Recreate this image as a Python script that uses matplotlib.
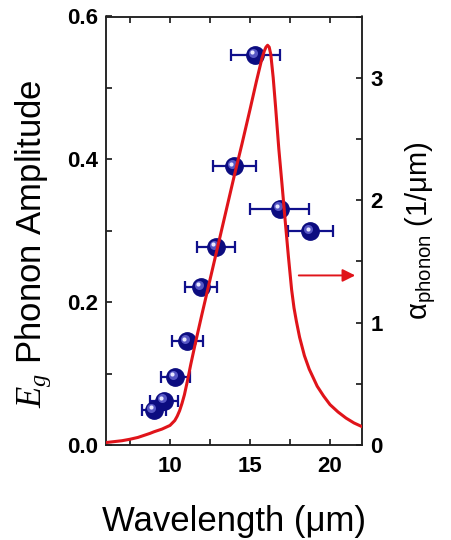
import matplotlib
matplotlib.use("Agg")
import matplotlib.pyplot as plt
from matplotlib.ticker import MultipleLocator
from matplotlib.transforms import offset_copy

plt.rcParams['font.family'] = ['Liberation Sans', 'DejaVu Sans']
plt.rcParams['mathtext.fontset'] = 'custom'
plt.rcParams['mathtext.rm'] = 'Liberation Sans'
plt.rcParams['mathtext.it'] = 'Liberation Serif:italic'

# measured Eg phonon amplitude
wl = [8.98, 9.64, 10.32, 11.07, 11.93, 12.88, 14.01, 15.32, 16.87, 18.78]
amp = [0.049, 0.062, 0.095, 0.145, 0.221, 0.277, 0.390, 0.546, 0.331, 0.299]
wl_err = [0.75, 0.88, 0.90, 0.97, 1.02, 1.18, 1.34, 1.53, 1.84, 1.39]

# phonon absorption curve (right axis)
curve_x = [6.0, 7.0, 7.5, 8.0, 8.75, 9.0, 9.5, 10.0, 10.3, 10.45, 10.6, 10.75,
           10.9, 11.0, 11.1, 11.3, 11.6, 12.0, 12.5, 13.0, 13.5, 14.0, 14.5,
           15.0, 15.4, 15.75, 15.9, 16.0, 16.1, 16.2, 16.3, 16.45, 16.6, 16.8,
           17.0, 17.2, 17.4, 17.6, 17.75, 17.9, 18.1, 18.4, 18.7, 19.2, 19.6,
           20.0, 20.5, 21.0, 21.5, 22.0]
curve_y = [0.02, 0.035, 0.047, 0.062, 0.095, 0.108, 0.13, 0.16, 0.20, 0.235,
           0.28, 0.34, 0.41, 0.47, 0.53, 0.66, 0.84, 1.07, 1.35, 1.63, 1.91,
           2.19, 2.46, 2.74, 2.97, 3.16, 3.22, 3.25, 3.265, 3.25, 3.19, 3.0,
           2.76, 2.42, 2.13, 1.83, 1.54, 1.27, 1.12, 1.01, 0.88, 0.73, 0.62,
           0.48, 0.40, 0.33, 0.27, 0.22, 0.18, 0.15]

navy = '#10108c'
red = '#e0141a'

fig = plt.figure(figsize=(4.52, 5.40), dpi=100)
ax = fig.add_axes([106/452, 1 - 445/540, 256/452, 428.5/540])

ax.errorbar(wl, amp, xerr=wl_err, fmt='none', ecolor=navy, elinewidth=1.6,
            capsize=4.6, capthick=1.6, zorder=2)
ax.plot(wl, amp, 'o', ms=12.5, color='#0c0c80', mec='#0c0c80', zorder=3)
tr1 = offset_copy(ax.transData, fig=fig, x=-1.6, y=1.6, units='points')
ax.plot(wl, amp, 'o', ms=6.5, color='#5656c4', mec='none', transform=tr1, zorder=4)
tr2 = offset_copy(ax.transData, fig=fig, x=-2.0, y=2.0, units='points')
ax.plot(wl, amp, 'o', ms=3.0, color='#e8e8ff', mec='none', transform=tr2, zorder=5)

ax.set_xlim(6, 22)
ax.set_ylim(0, 0.6)
ax.xaxis.set_major_locator(MultipleLocator(5))
ax.xaxis.set_minor_locator(MultipleLocator(2.5))
ax.yaxis.set_major_locator(MultipleLocator(0.2))
ax.yaxis.set_minor_locator(MultipleLocator(0.1))
ax.yaxis.set_major_formatter(plt.FormatStrFormatter('%.1f'))
ax.tick_params(which='both', direction='in', length=4.5, width=1.1,
               top=True, right=False, labelsize=16, pad=6)
ax.tick_params(axis='x', pad=8)
for lab in ax.get_xticklabels() + ax.get_yticklabels():
    lab.set_fontweight('bold')

ax.set_xlabel('Wavelength (μm)', fontsize=25, labelpad=20)
ax.set_ylabel('$E_g$ Phonon Amplitude', fontsize=25)
ax.yaxis.set_label_coords(-0.208, 0.47)

ax2 = ax.twinx()
ax2.plot(curve_x, curve_y, color=red, lw=2.2, zorder=3)
ax2.set_ylim(0, 3.5)
ax2.yaxis.set_major_locator(MultipleLocator(1))
ax2.yaxis.set_minor_locator(MultipleLocator(0.5))
ax2.tick_params(which='both', direction='in', length=4.5, width=1.1,
                labelsize=16, pad=6)
for lab in ax2.get_yticklabels():
    lab.set_fontweight('bold')
ax2.set_ylabel(r'α$_{\mathrm{phonon}}$ (1/μm)', fontsize=21, rotation=90, labelpad=15)
ax2.annotate('', xy=(21.75, 1.385), xytext=(17.875, 1.385),
             arrowprops=dict(arrowstyle='-|>', color=red, lw=1.4, mutation_scale=19))

for a in (ax, ax2):
    for s in a.spines.values():
        s.set_linewidth(1.1)
        s.set_color('#222222')

fig.savefig('out.png', dpi=100)
